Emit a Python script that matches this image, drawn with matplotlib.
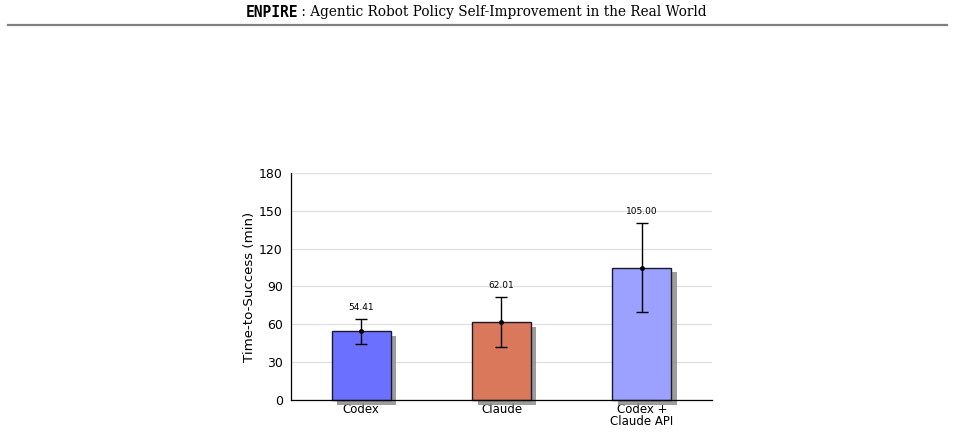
import matplotlib.pyplot as plt
import matplotlib.patheffects as pe

categories = ["Codex", "Claude", "Codex +\nClaude API"]
means = [54.41, 62.01, 105.00]
errors = [10.0, 20.0, 35.0]
colors = ["#6b70ff", "#d9785a", "#9ca0ff"]
yticks = [0, 30, 60, 90, 120, 150, 180]

fig = plt.figure(figsize=(9.55, 4.33), dpi=100)

# page header
fig.text(0.2576, 0.972, "ENPIRE", ha="left", va="center", fontsize=10.5,
         fontweight="bold", family="DejaVu Sans Mono")
fig.text(0.3115, 0.972, " : Agentic Robot Policy Self-Improvement in the Real World",
         ha="left", va="center", fontsize=9.8, family="DejaVu Serif")
fig.add_artist(plt.Line2D([0.008, 0.992], [0.942, 0.942], color="#808080", lw=1.6))

ax = fig.add_axes([0.3047, 0.0762, 0.4408, 0.5243])
x = list(range(len(categories)))
bars = ax.bar(x, means, width=0.42, color=colors, edgecolor="#1a1a2e", linewidth=1.0, zorder=3)
for b in bars:
    b.set_path_effects([pe.SimplePatchShadow(offset=(4, -3.5), shadow_rgbFace="#8c8c8c", alpha=0.85),
                        pe.Normal()])
    b.set_clip_on(False)
ax.errorbar(x, means, yerr=errors, fmt="o", color="black", markersize=2.5,
            capsize=4, elinewidth=1.0, capthick=1.0, zorder=4)
for xi, m, e in zip(x, means, errors):
    ax.annotate(f"{m:.2f}", (xi, m + e), xytext=(0, 5), textcoords="offset points",
                ha="center", va="bottom", fontsize=6.5)

ax.set_xlim(-0.5, 2.5)
ax.set_ylim(0, 180)
ax.set_yticks(yticks)
ax.set_xticks(x)
ax.set_xticklabels(categories, fontsize=8.5, linespacing=0.95)
ax.tick_params(axis="y", labelsize=9, length=0, pad=6)
ax.tick_params(axis="x", length=0, pad=2)
ax.set_ylabel("Time-to-Success (min)", fontsize=9.6, labelpad=2)
ax.grid(axis="y", color="#e0e0e0", linewidth=0.9, zorder=0)
ax.set_axisbelow(True)
for s in ["top", "right"]:
    ax.spines[s].set_visible(False)
ax.spines["left"].set_linewidth(0.9)
ax.spines["bottom"].set_linewidth(0.9)
ax.spines["bottom"].set_zorder(5)

fig.savefig("out.png", dpi=100)
